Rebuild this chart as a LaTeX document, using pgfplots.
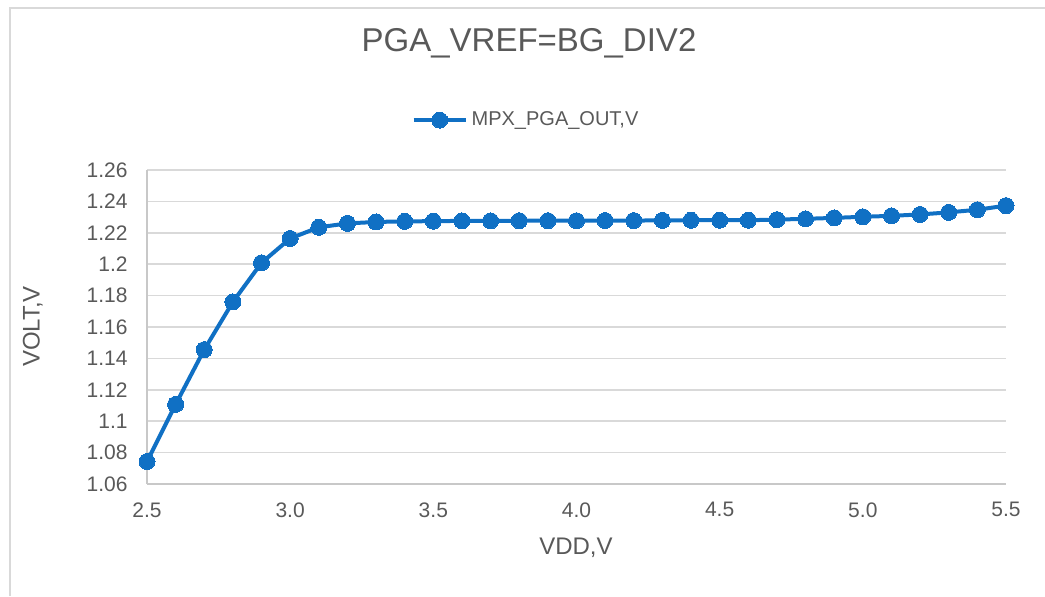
\documentclass[border=0pt]{standalone}
\usepackage{pgfplots}
\pgfplotsset{compat=1.18}
\usepackage{fontspec}
\setmainfont{Liberation Sans}
\definecolor{txt}{RGB}{89,89,89}
\definecolor{gridc}{RGB}{217,217,217}
\definecolor{axc}{RGB}{200,200,200}
\definecolor{ser}{RGB}{16,112,196}
\begin{document}
\begin{tikzpicture}[x=1pt,y=1pt]
\useasboundingbox (0,0) rectangle (522.5,298);
\draw[gridc,line width=0.8pt] (5,0) -- (5,294) -- (522.5,294);
\begin{axis}[
  at={(73.5pt,56pt)}, anchor=south west,
  scale only axis, width=429.5pt, height=157pt,
  xmin=2.5, xmax=5.5, ymin=1.06, ymax=1.26,
  xtick={2.5,3.0,3.5,4.0,4.5,5.0,5.5},
  xticklabels={2.5,3.0,3.5,4.0,4.5,5.0,5.5},
  ytick={1.06,1.08,1.10,1.12,1.14,1.16,1.18,1.20,1.22,1.24,1.26},
  yticklabels={1.06,1.08,1.1,1.12,1.14,1.16,1.18,1.2,1.22,1.24,1.26},
  major tick length=0pt,
  axis x line*=bottom, axis y line*=left,
  axis line style={axc, line width=0.8pt, -},
  ymajorgrids, grid style={gridc, line width=0.8pt},
  tick label style={font=\fontsize{10.5}{12}\selectfont, text=txt},
  yticklabel style={inner sep=0pt, xshift=-9.5pt},
  xticklabel style={inner sep=0pt, yshift=-9pt},
  label style={font=\fontsize{12}{14}\selectfont, text=txt},
  xlabel={VDD,V},
  ylabel={VOLT,V},
  xlabel style={at={(axis description cs:0.4994,-0.204)}, anchor=center},
  ylabel style={at={(axis description cs:-0.133,0.5016)}, anchor=center, rotate=0},
  title={PGA\_VREF=BG\_DIV2},
  title style={at={(axis description cs:0.4447,1.366)}, anchor=center, font=\fontsize{16.5}{19}\selectfont, text=txt},
  legend style={at={(axis description cs:0.4424,1.159)}, anchor=center, draw=none, fill=none,
    font=\fontsize{10}{12}\selectfont, text=txt, inner sep=0pt},
  legend cell align=left,
  legend image code/.code={\draw[mark repeat=2,mark phase=2,#1] plot coordinates {(0pt,0pt) (13pt,0pt) (26pt,0pt)};},
  clip=false,
]
\addplot[color=ser, line width=2pt, mark=*, mark size=4pt, mark options={fill=ser, draw=ser, line width=0pt}] coordinates {
(2.5,1.0743) (2.6,1.1107) (2.7,1.1456) (2.8,1.1760) (2.9,1.2009)
(3.0,1.2164) (3.1,1.2235) (3.2,1.2260) (3.3,1.2269) (3.4,1.2273)
(3.5,1.2274) (3.6,1.2276) (3.7,1.2276) (3.8,1.2277) (3.9,1.2277)
(4.0,1.2277) (4.1,1.2278) (4.2,1.2278) (4.3,1.2279) (4.4,1.2280)
(4.5,1.2280) (4.6,1.2280) (4.7,1.2284) (4.8,1.2289) (4.9,1.2295)
(5.0,1.2302) (5.1,1.2308) (5.2,1.2317) (5.3,1.2330) (5.4,1.2347)
(5.5,1.2373)
};
\addlegendentry{MPX\_PGA\_OUT,V}
\end{axis}
\end{tikzpicture}
\end{document}
